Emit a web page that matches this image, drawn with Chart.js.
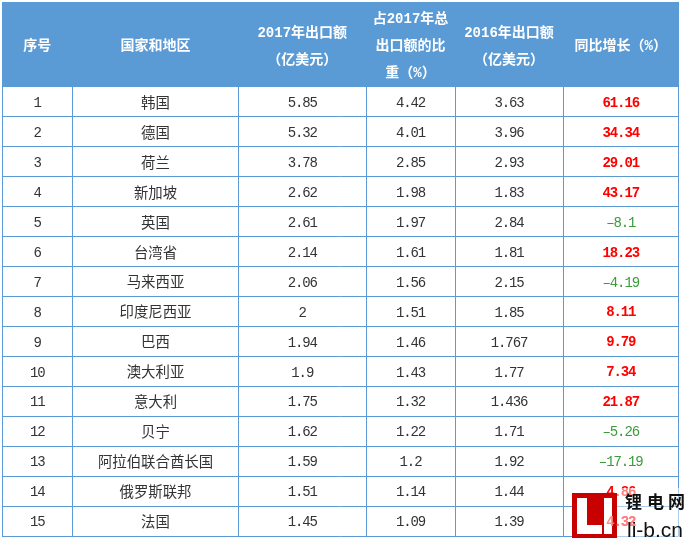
<!DOCTYPE html>
<html><head><meta charset="utf-8">
<style>html,body{margin:0;padding:0;background:#fff}#w{position:absolute;left:0;top:0;width:688px;height:541px}</style>
<script src="https://cdn.jsdelivr.net/npm/chart.js@4"></script></head>
<body><div id="w"><canvas id="c"></canvas></div>
<script>
const headers=[["序号"],["国家和地区"],["2017年出口额","（亿美元）"],["占2017年总","出口额的比","重（%）"],["2016年出口额","（亿美元）"],["同比增长（%）"]];
const ranks=[1,2,3,4,5,6,7,8,9,10,11,12,13,14,15];
const regions=["韩国","德国","荷兰","新加坡","英国","台湾省","马来西亚","印度尼西亚","巴西","澳大利亚","意大利","贝宁","阿拉伯联合酋长国","俄罗斯联邦","法国"];
const export2017=[5.85,5.32,3.78,2.62,2.61,2.14,2.06,2,1.94,1.9,1.75,1.62,1.59,1.51,1.45];
const share2017=[4.42,4.01,2.85,1.98,1.97,1.61,1.56,1.51,1.46,1.43,1.32,1.22,1.2,1.14,1.09];
const export2016=[3.63,3.96,2.93,1.83,2.84,1.81,2.15,1.85,1.767,1.77,1.436,1.71,1.92,1.44,1.39];
const growth=[61.16,34.34,29.01,43.17,-8.1,18.23,-4.19,8.11,9.79,7.34,21.87,-5.26,-17.19,4.86,4.32];
const columns=[ranks,regions,export2017,share2017,export2016,growth];

const BLUE='#5b9bd5',INK='#333333',RED='#ff0000',GREEN='#3b9b3b';
const colEdges=[0,70.5,236.5,364,453,561,676.5];
const HEAD_ROWS=85/30;
const yMin=0.5-HEAD_ROWS, yMax=15.5;
const LATIN='"Liberation Mono"', CJK='"Noto Sans CJK SC"';

const centre=i=>(colEdges[i]+colEdges[i+1])/2;
const cellSets=columns.map((col,i)=>({type:'scatter',label:'c'+i,cells:col,
  data:col.map((v,r)=>({x:centre(i),y:r+1})),pointRadius:0,showLine:false}));
const headSet={type:'scatter',label:'head',cells:headers,
  data:headers.map((h,i)=>({x:centre(i),y:0.5-HEAD_ROWS/2+0.07})),pointRadius:0,showLine:false};
const band={type:'line',label:'band',data:[{x:0,y:0.5},{x:colEdges[6],y:0.5}],
  borderWidth:0,pointRadius:0,backgroundColor:BLUE,fill:{value:yMin}};

const fmt=v=>typeof v==='number'?String(v).replace('-','–'):String(v);
function numFont(ctx,bold){ctx.font=`${bold?'bold ':''}14px ${LATIN}`;ctx.letterSpacing='-1.1px';}
const tableText={id:'tableText',afterDatasetsDraw(chart){
  const ctx=chart.ctx;ctx.save();ctx.textAlign='center';ctx.textBaseline='middle';
  chart.data.datasets.forEach((ds,di)=>{
    if(!ds.cells)return;
    const pts=chart.getDatasetMeta(di).data;
    ds.cells.forEach((v,i)=>{
      const p=pts[i];
      ctx.letterSpacing='0px';
      if(ds.label==='head'){
        ctx.fillStyle='#ffffff';
        ctx.font=`bold 14px ${LATIN},${CJK}`;
        v.forEach((line,k)=>ctx.fillText(line,p.x,p.y+(k-(v.length-1)/2)*27));
      }else if(ds.cells===regions){
        ctx.font=`14.4px ${CJK}`;ctx.fillStyle=INK;
        ctx.fillText(fmt(v),p.x,p.y+0.5);
      }else{
        if(ds.cells===growth){numFont(ctx,v>=0);ctx.fillStyle=v<0?GREEN:RED;}
        else{numFont(ctx,false);ctx.fillStyle=INK;}
        ctx.fillText(fmt(v),p.x,p.y+1.5);
      }
    });
  });
  ctx.restore();
},afterDraw(chart){
  const ctx=chart.ctx;ctx.save();
  ctx.fillStyle='rgba(255,255,255,0.5)';ctx.fillRect(615,488,73,53);
  ctx.fillStyle='#c80000';ctx.fillRect(572,493,45,45);
  ctx.fillStyle='#ffffff';
  ctx.fillRect(577,498,10,36);ctx.fillRect(577,525,25,9);ctx.fillRect(604,498,8,36);
  const gi=chart.data.datasets.findIndex(d=>d.cells===growth);
  const p=chart.getDatasetMeta(gi).data[growth.length-1];
  ctx.textAlign='center';ctx.textBaseline='middle';
  ctx.fillStyle='rgba(255,130,130,0.9)';numFont(ctx,true);
  ctx.fillText(fmt(growth[growth.length-1]),p.x,p.y+1.5);
  ctx.letterSpacing='0px';
  ctx.fillStyle='#111';ctx.textAlign='left';
  ctx.font=`bold 17px ${CJK}`;
  ctx.fillText('锂',625,502);ctx.fillText('电',647,502);ctx.fillText('网',668,502);
  ctx.font='21px "Liberation Sans"';
  ctx.fillText('li-b.cn',627,531);
  ctx.restore();
}};

new Chart(document.getElementById('c'),{
  data:{datasets:[band,...cellSets,headSet]},
  plugins:[tableText],
  options:{responsive:true,maintainAspectRatio:false,animation:false,
    layout:{padding:{left:2,right:9.5,top:2,bottom:5}},
    plugins:{legend:{display:false},tooltip:{enabled:false}},
    scales:{
      x:{type:'linear',min:0,max:colEdges[6],
        afterBuildTicks(a){a.ticks=colEdges.map(v=>({value:v}));},
        ticks:{display:false},border:{display:false},
        grid:{color:BLUE,lineWidth:1,drawTicks:false}},
      y:{type:'linear',reverse:true,min:yMin,max:yMax,
        afterBuildTicks(a){a.ticks=ranks.map(r=>({value:r+0.5})).concat([{value:0.5}]);},
        ticks:{display:false},border:{display:false},
        grid:{color:BLUE,lineWidth:1,drawTicks:false}}
    }}
});
</script></body></html>
